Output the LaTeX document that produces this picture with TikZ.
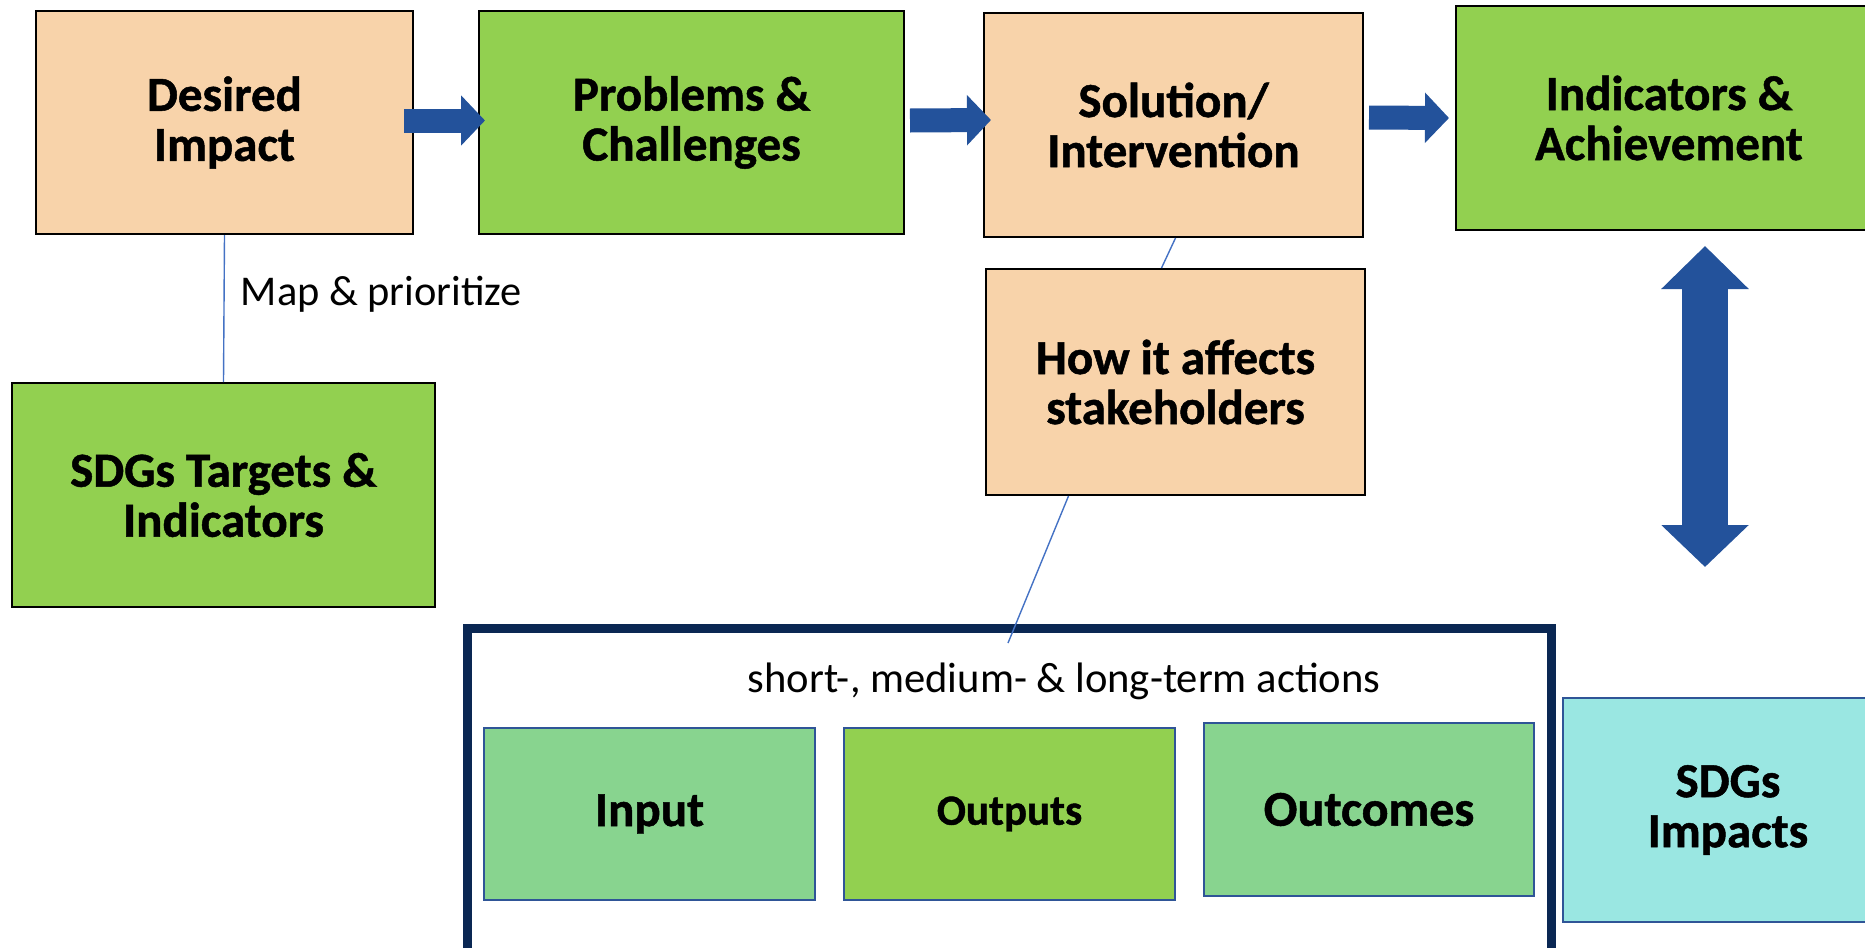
\documentclass[tikz,border=0pt]{standalone}
\usepackage{fontspec}
\setmainfont{Carlito}[BoldFeatures={FakeBold=1}]
\usetikzlibrary{arrows.meta,calc}
\definecolor{peach}{HTML}{F8D3AA}
\definecolor{grn}{HTML}{92D050}
\definecolor{lgrn}{HTML}{88D48F}
\definecolor{cyanbox}{HTML}{9AE7E2}
\definecolor{arrblue}{HTML}{23529B}
\definecolor{navy}{HTML}{0A2753}
\definecolor{lineblue}{HTML}{4472C4}
\definecolor{edgeblue}{HTML}{2F5597}
\tikzset{
  box/.style={draw=black, line width=1pt, inner sep=0pt, align=center,
    font=\fontsize{24.5}{25}\selectfont\bfseries},
  innerbox/.style={draw=edgeblue, line width=1.2pt, inner sep=0pt, align=center,
    font=\fontsize{24.5}{25}\selectfont\bfseries},
  bigarrow/.style={draw=arrblue, line width=12pt,
    -{Triangle[length=12pt,width=24.5pt]}},
  dblarrow/.style={draw=arrblue, line width=23pt,
    {Triangle[length=21.5pt,width=42.5pt]}-{Triangle[length=21pt,width=42.5pt]}},
  thinline/.style={draw=lineblue, line width=0.7pt},
  container/.style={draw=navy, line width=4.5pt, inner sep=0pt, fill=white}
}
\begin{document}
\begin{tikzpicture}[x=0.5pt,y=-0.5pt]
\useasboundingbox (0,0) rectangle (1865,948);
\clip (0,0) rectangle (1865,948);
% top row
\node[box, fill=peach, minimum width=188.5pt, minimum height=111.5pt] (di) at (224.5,122.5) {Desired\\Impact};
\node[box, fill=grn, minimum width=212.5pt, minimum height=111.5pt] (pc) at (691.5,122.5) {Problems \&\\Challenges};
\node[box, fill=peach, minimum width=189.5pt, minimum height=112pt] (sol) at (1173.5,125) {Solution/\\Intervention};
\node[box, fill=grn, minimum width=213pt, minimum height=112pt] (ind) at (1669,118) {Indicators \&\\Achievement};
% left lower
\node[box, fill=grn, minimum width=211.5pt, minimum height=112pt] (sdgt) at (223.5,495) {SDGs Targets \&\\Indicators};
% middle
\node[box, fill=peach, minimum width=189.5pt, minimum height=113pt] (how) at (1175.5,382) {How it affects\\stakeholders};
% container
\node[container, minimum width=542pt, minimum height=163.5pt] (acts) at (1009,791.5) {};
\node[font=\fontsize{21.3}{23}\selectfont, inner sep=0pt] (actlbl) at (1064,681) {short-, medium- \& long-term actions};
\node[innerbox, fill=lgrn, minimum width=165.5pt, minimum height=86pt] (inp) at (649.5,814) {Input};
\node[innerbox, fill=grn, minimum width=165.5pt, minimum height=86pt, font=\fontsize{21.5}{22}\selectfont\bfseries] (outp) at (1009.5,814) {Outputs};
\node[innerbox, fill=lgrn, minimum width=165pt, minimum height=86.5pt, font=\fontsize{25}{25}\selectfont\bfseries] (outc) at (1369,809.5) {Outcomes};
\node[innerbox, fill=cyanbox, minimum width=165pt, minimum height=112pt, font=\fontsize{24.5}{25}\selectfont\bfseries] (sdgi) at (1728,810) {SDGs\\Impacts};
% thin connectors
\draw[thinline] (di.south) -- (sdgt.north) node[pos=0.4, right=8pt, inner sep=0pt, font=\fontsize{21.2}{23}\selectfont, text=black] (maplbl) {Map \& prioritize};
\draw[thinline] ($(sol.south)+(2,0)$) -- ($(how.north)+(-14,0)$);
\coordinate (lineend) at (1008,643);
\draw[thinline] ($(how.south)+(-107,0)$) -- (lineend);
% block arrows
\draw[bigarrow] ($(di.east)+(-10,-2)$) -- ($(pc.west)+(7,-2)$);
\draw[bigarrow] ($(pc.east)+(5,-2)$) -- ($(sol.west)+(8,-5)$);
\draw[bigarrow] ($(sol.east)+(5,-7.5)$) -- ($(ind.west)+(-6,0)$);
\coordinate (vtop) at (1705,246);
\coordinate (vbot) at (1705,567);
\draw[dblarrow] (vtop) -- (vbot);
\end{tikzpicture}
\end{document}
